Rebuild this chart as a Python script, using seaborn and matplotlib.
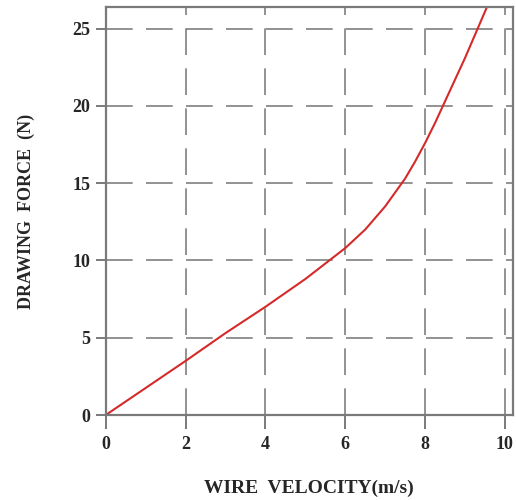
import pandas as pd
import seaborn as sns
import matplotlib.pyplot as plt

# values
velocity = [0, 1, 2, 3, 4, 5, 6, 6.5, 7, 7.5, 7.75, 8, 8.25, 8.5, 9, 9.55]
force = [0, 1.75, 3.5, 5.3, 7.0, 8.8, 10.8, 12.0, 13.5, 15.3, 16.4, 17.6, 18.9, 20.3, 23.1, 26.4]
x_ticks = [0, 2, 4, 6, 8, 10]
y_ticks = [0, 5, 10, 15, 20, 25]

df = pd.DataFrame({'velocity': velocity, 'force': force})

sns.set_style('white')
plt.rcParams['font.family'] = ['Liberation Serif', 'DejaVu Serif']
plt.rcParams['font.weight'] = 'bold'

fig = plt.figure(figsize=(5.16, 5.0), dpi=100)
ax = fig.add_axes([0.205, 0.17, 0.789, 0.816])

sns.lineplot(data=df, x='velocity', y='force', color='#d42a2a', linewidth=1.5, ax=ax)

ax.set_xlim(0, 10.2)
ax.set_ylim(0, 26.4)
ax.set_xticks(x_ticks)
ax.set_yticks(y_ticks)
ax.grid(True, color='#7f7f7f', linestyle=(0, (16, 8)), linewidth=1.2)
ax.set_axisbelow(True)

for s in ax.spines.values():
    s.set_color('#7a7a7a')
    s.set_linewidth(1.6)

ax.tick_params(axis='x', bottom=True, direction='out', length=10, width=1.4,
               color='#7a7a7a', labelsize=13, pad=5)
ax.tick_params(axis='y', left=True, direction='out', length=7, width=1.4,
               color='#7a7a7a', labelsize=13, pad=4)
for lab in ax.get_xticklabels() + ax.get_yticklabels():
    lab.set_fontweight('bold')

ax.set_xlabel('WIRE  VELOCITY(m/s)', fontsize=14, fontweight='bold', labelpad=19)
ax.set_ylabel('DRAWING  FORCE  (N)', fontsize=13, fontweight='bold', labelpad=27)

fig.savefig('out.png', dpi=100)
